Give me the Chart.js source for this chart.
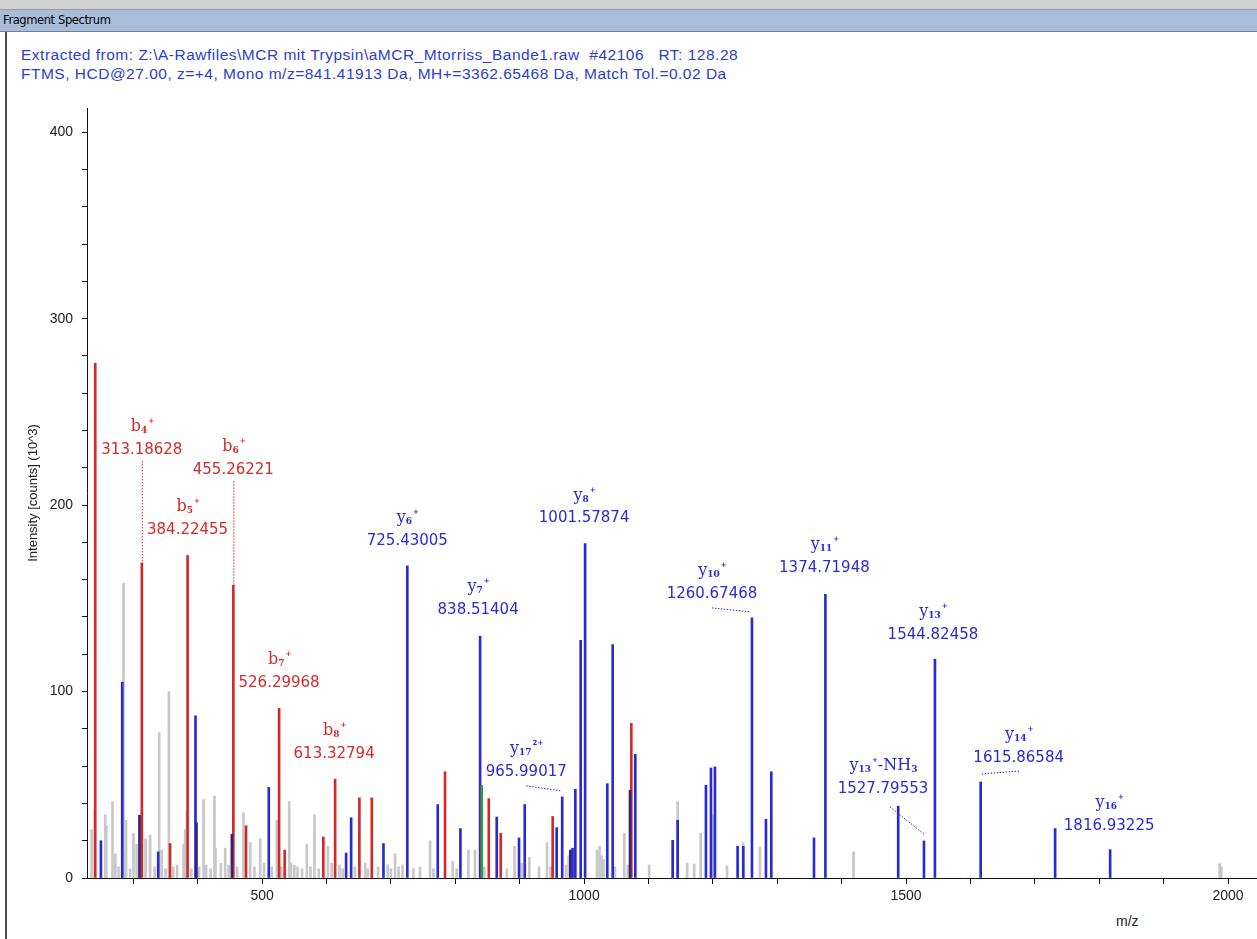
<!DOCTYPE html>
<html>
<head>
<meta charset="utf-8">
<script src="https://cdn.jsdelivr.net/npm/chart.js@4.4.1/dist/chart.umd.min.js"></script>
<style>
  html, body { margin: 0; padding: 0; background: #fff; }
  #wrap { position: relative; width: 1257px; height: 939px; overflow: hidden; font-family: "Liberation Sans", Arial, sans-serif; }
  #topstrip { position: absolute; left: 0; top: 0; width: 1257px; height: 9px; background: #d2d2d2; border-bottom: 1px solid #9a9a9a; }
  #titlebar { position: absolute; left: 0; top: 10px; width: 1257px; height: 21px; background: #a9bdda; border-bottom: 1px solid #6f7f96; font: 11.5px "DejaVu Sans", sans-serif; letter-spacing: -0.4px; line-height: 21px; color: #000; text-indent: 3px; }
  #frame { position: absolute; left: 5px; top: 32px; width: 2px; height: 907px; background: #4d4d4d; }
  #info { position: absolute; left: 21px; top: 45px; color: #2a3fcc; font-size: 15.5px; letter-spacing: 0.5px; line-height: 19px; white-space: pre; }
  #xlab { position: absolute; left: 1116px; top: 913px; font-size: 14px; color: #222; }
  #chart { position: absolute; left: 0; top: 0; }
</style>
</head>
<body>
<div id="wrap">
  <div id="topstrip"></div>
  <div id="titlebar">Fragment Spectrum</div>
  <div id="frame"></div>
  <div id="info">Extracted from: Z:\A-Rawfiles\MCR mit Trypsin\aMCR_Mtorriss_Bande1.raw  #42106   RT: 128.28
FTMS, HCD@27.00, z=+4, Mono m/z=841.41913 Da, MH+=3362.65468 Da, Match Tol.=0.02 Da</div>
  <div id="xlab">m/z</div>
  <canvas id="chart" width="1257" height="939"></canvas>
</div>
<script>
// unassigned peaks (grey)
var greyMz = [235, 239.9, 256.3, 258, 267.6, 272, 277, 284.7, 287, 288.7, 295, 300.2, 305, 318.9, 326, 333,
  340.1, 344, 350, 355.2, 362, 368, 378, 380.5, 383, 390, 402, 409, 413, 420, 426, 427.5, 436, 442.6, 448,
  461, 471, 481.5, 488, 497, 503, 515, 522.8, 530, 542, 545, 550, 555, 562, 569.4, 575, 581.2, 588, 602,
  608, 620, 625, 644, 660, 664, 680, 695, 700, 706.5, 712, 718, 735, 745, 760.8, 766, 796, 802, 820.3,
  830.6, 845, 880, 892, 903, 915, 930, 942.4, 948, 972, 976, 1020, 1024, 1027, 1030, 1048, 1062.4, 1068,
  1101, 1145.3, 1160, 1171, 1181, 1200, 1222, 1247, 1273, 1418.5, 1987, 1989.5];
var greyInt = [26, 37, 34, 28, 41, 13, 6, 158, 14, 31, 5, 24, 18, 21, 23, 6,
  78, 15, 5, 100, 6, 7, 18, 26, 36, 5, 6, 42, 7, 5, 44, 16, 8, 16, 7,
  6, 35, 19, 6, 21, 8, 6, 31, 6, 41, 8, 7, 6, 5, 18, 6, 34, 5, 17,
  8, 7, 5, 6, 8, 5, 6, 7, 5, 13, 6, 7, 5, 6, 20, 5, 9, 5, 15,
  15, 6, 5, 17, 8, 11, 6, 19, 6, 7, 12, 15, 17, 12, 10, 6, 24, 7,
  7, 41, 8, 7.5, 24, 34, 6.5, 19, 16.5, 14, 7.7, 6];

// b ions and other red matches
var redMz = [240.8, 313.18628, 357, 384.22455, 455.26221, 475, 526.29968, 535, 595, 613.32794, 651, 670.3,
  784, 852, 870.5, 951.2, 1073.3];
var redInt = [276, 169, 18.5, 173, 157, 28, 91, 15, 22, 53, 43, 43, 57, 42.6, 24, 33, 83];

// y ions and other blue matches
var blueMz = [249.6, 282.7, 338.6, 396.5, 510.3, 630.4, 638.2, 688.4, 725.43005, 772.7, 807.9, 838.51404,
  864.3, 898.9, 907.8, 957.4, 965.99017, 982, 986.4, 994.7, 1001.57874, 1036, 1044.4, 1079.5, 1137.5,
  1145.3, 1189.2, 1197, 1203.2, 1238.4, 1247.2, 1260.67468, 1282.4, 1290.7, 1357, 1374.71948, 1487.8,
  1527.79553, 1544.82458, 1615.86584, 1731.5, 1816.93225];
var blueInt = [20, 105, 14, 87, 48.6, 13.4, 32.3, 18.5, 167.5, 39.4, 26.5, 129.7,
  32.7, 21.5, 39.4, 27, 43.5, 16, 47.6, 127.5, 179.4, 50.6, 125.2, 66.4, 20.2,
  31, 49.7, 59, 59.6, 17, 17, 139.5, 31.5, 57, 21.5, 152.2, 38.5,
  19.9, 117.4, 51.5, 26.5, 15.2];

// overlapping (dark) and other-ion (green) peaks
var navyMz = [309.5, 398, 453, 978.6, 1071.3];
var navyInt = [33.7, 29.7, 23.5, 15, 47];
var greenMz = [841];
var greenInt = [49.7];

// axis ticks
var xTickValues = [300, 400, 500, 600, 700, 800, 900, 1000, 1100, 1200, 1300, 1400, 1500, 1600, 1700, 1800, 1900, 2000];
var xTickLabels = [500, 1000, 1500, 2000];
var yTickValues = [0, 20, 40, 60, 80, 100, 120, 140, 160, 180, 200, 220, 240, 260, 280, 300, 320, 340, 360, 380, 400];
var yTickLabels = [0, 100, 200, 300, 400];

// annotated ions
var labels = [
  { parts: [['b', 'n'], ['4', 'sub'], ['+', 'sup']], text: '313.18628', mz: 313.18628, intensity: 169, ion: 'b' },
  { parts: [['b', 'n'], ['5', 'sub'], ['+', 'sup']], text: '384.22455', mz: 384.22455, intensity: 173, ion: 'b' },
  { parts: [['b', 'n'], ['6', 'sub'], ['+', 'sup']], text: '455.26221', mz: 455.26221, intensity: 157, ion: 'b' },
  { parts: [['b', 'n'], ['7', 'sub'], ['+', 'sup']], text: '526.29968', mz: 526.29968, intensity: 91, ion: 'b' },
  { parts: [['b', 'n'], ['8', 'sub'], ['+', 'sup']], text: '613.32794', mz: 613.32794, intensity: 53, ion: 'b' },
  { parts: [['y', 'n'], ['6', 'sub'], ['+', 'sup']], text: '725.43005', mz: 725.43005, intensity: 167.5, ion: 'y' },
  { parts: [['y', 'n'], ['7', 'sub'], ['+', 'sup']], text: '838.51404', mz: 838.51404, intensity: 129.7, ion: 'y' },
  { parts: [['y', 'n'], ['8', 'sub'], ['+', 'sup']], text: '1001.57874', mz: 1001.57874, intensity: 179.4, ion: 'y' },
  { parts: [['y', 'n'], ['17', 'sub'], ['2+', 'sup']], text: '965.99017', mz: 965.99017, intensity: 43.5, ion: 'y' },
  { parts: [['y', 'n'], ['10', 'sub'], ['+', 'sup']], text: '1260.67468', mz: 1260.67468, intensity: 139.5, ion: 'y' },
  { parts: [['y', 'n'], ['11', 'sub'], ['+', 'sup']], text: '1374.71948', mz: 1374.71948, intensity: 152.2, ion: 'y' },
  { parts: [['y', 'n'], ['13', 'sub'], ['+', 'sup']], text: '1544.82458', mz: 1544.82458, intensity: 117.4, ion: 'y' },
  { parts: [['y', 'n'], ['13', 'sub'], ['+', 'sup'], ['-NH', 'n'], ['3', 'sub']], text: '1527.79553', mz: 1527.79553, intensity: 19.9, ion: 'y' },
  { parts: [['y', 'n'], ['14', 'sub'], ['+', 'sup']], text: '1615.86584', mz: 1615.86584, intensity: 51.5, ion: 'y' },
  { parts: [['y', 'n'], ['16', 'sub'], ['+', 'sup']], text: '1816.93225', mz: 1816.93225, intensity: 15.2, ion: 'y' }
];

// label placement in pixels relative to the peak top (number line centre)
var placement = [
  { dx: 0, dy: -113, lead: 'v' },
  { dx: 0, dy: -25 },
  { dx: 0, dy: -115, lead: 'v' },
  { dx: 0, dy: -25 },
  { dx: -1, dy: -25 },
  { dx: 0, dy: -25 },
  { dx: -2, dy: -26 },
  { dx: -1, dy: -25 },
  { dx: -36, dy: -25, lead: 'l' },
  { dx: -40, dy: -24, lead: 'l' },
  { dx: -1, dy: -26 },
  { dx: -2, dy: -24 },
  { dx: -41, dy: -52, lead: 'd' },
  { dx: 38, dy: -24, lead: 'r' },
  { dx: -1, dy: -24 }
];

var ionColors = { b: '#d42a2a', y: '#2b2bd4' };

function pts(xs, ys) {
  return xs.map(function (x, i) { return { x: x, y: ys[i] }; });
}

function peakSet(name, xs, ys, color, order, width) {
  return {
    label: name, data: pts(xs, ys), backgroundColor: color, borderWidth: 0,
    barThickness: width || 2, grouped: false, order: order
  };
}

var labelPlugin = {
  id: 'ionLabels',
  afterDatasetsDraw: function (chart) {
    var ctx = chart.ctx, xs = chart.scales.x, ys = chart.scales.y;
    ctx.save();
    labels.forEach(function (l, i) {
      var p = placement[i];
      var px = xs.getPixelForValue(l.mz), py = ys.getPixelForValue(l.intensity);
      var lx = px + p.dx, ny = py + p.dy;
      var col = ionColors[l.ion];
      ctx.fillStyle = col;
      ctx.strokeStyle = col;

      // leader line
      if (p.lead) {
        ctx.lineWidth = 1;
        ctx.setLineDash([1.5, 1.5]);
        ctx.beginPath();
        if (p.lead === 'v') { ctx.moveTo(px + 0.5, ny + 11); ctx.lineTo(px + 0.5, py); }
        if (p.lead === 'l') { ctx.moveTo(lx, ny + 14); ctx.lineTo(px - 1, py - 6); }
        if (p.lead === 'd') { ctx.moveTo(lx + 7, ny + 18); ctx.lineTo(px + 1, py - 6); }
        if (p.lead === 'r') { ctx.moveTo(px + 1, py - 8); ctx.lineTo(lx + 1, ny + 13); }
        ctx.stroke();
        ctx.setLineDash([]);
      }

      // m/z value
      ctx.font = '15px "DejaVu Sans"';
      ctx.textAlign = 'center';
      ctx.textBaseline = 'middle';
      ctx.fillText(l.text, lx, ny);

      // ion name with sub/superscripts
      var fonts = { n: '16px "DejaVu Serif"', sub: 'bold 9px "DejaVu Serif"', sup: 'bold 7px "DejaVu Sans"' };
      var shift = { n: 0, sub: 2, sup: -8 };
      var total = 0;
      var widths = l.parts.map(function (s) {
        ctx.font = fonts[s[1]];
        var w = ctx.measureText(s[0]).width;
        total += w;
        return w;
      });
      var x = lx - total / 2;
      ctx.textAlign = 'left';
      ctx.textBaseline = 'alphabetic';
      l.parts.forEach(function (s, k) {
        ctx.font = fonts[s[1]];
        ctx.fillText(s[0], x, ny - 19 + shift[s[1]]);
        x += widths[k] + (s[1] === 'sub' ? 1 : 0);
      });
    });
    ctx.restore();
  }
};

new Chart(document.getElementById('chart'), {
  type: 'bar',
  data: {
    datasets: [
      peakSet('unassigned', greyMz, greyInt, '#c8c8c8', 5, 2),
      peakSet('b', redMz, redInt, '#d02a2a', 2),
      peakSet('y', blueMz, blueInt, '#2a2ad2', 1),
      peakSet('overlap', navyMz, navyInt, '#30247e', 0),
      peakSet('other', greenMz, greenInt, '#3c963c', 0)
    ]
  },
  options: {
    responsive: false,
    animation: false,
    devicePixelRatio: 1,
    layout: { padding: { top: 108, left: 0, right: 0, bottom: 0 } },
    plugins: { legend: { display: false }, tooltip: { enabled: false } },
    scales: {
      x: {
        type: 'linear', min: 228, max: 2045, offset: false,
        afterBuildTicks: function (s) { s.ticks = xTickValues.map(function (v) { return { value: v }; }); },
        afterFit: function (s) { s.height = 61; },
        ticks: {
          autoSkip: false, maxRotation: 0, padding: 4, color: '#222',
          font: { family: '"Liberation Sans", Arial', size: 14 },
          callback: function (v) { return xTickLabels.indexOf(v) >= 0 ? String(v) : ''; }
        },
        grid: { drawOnChartArea: false, offset: false, tickLength: 6, tickColor: '#111' },
        border: { color: '#111', width: 1 }
      },
      y: {
        min: 0, max: 413,
        afterBuildTicks: function (s) { s.ticks = yTickValues.map(function (v) { return { value: v }; }); },
        afterFit: function (s) { s.width = 87; },
        ticks: {
          autoSkip: false, padding: 9, color: '#222',
          font: { family: '"Liberation Sans", Arial', size: 14 },
          callback: function (v) { return yTickLabels.indexOf(v) >= 0 ? String(v) : ''; }
        },
        grid: { drawOnChartArea: false, tickLength: 5, tickColor: '#111' },
        border: { color: '#111', width: 1 },
        title: {
          display: true, text: 'Intensity [counts] (10^3)', color: '#222',
          font: { family: '"Liberation Sans", Arial', size: 13 },
          padding: { top: 26, bottom: 0 }
        }
      }
    }
  },
  plugins: [labelPlugin]
});
</script>
</body>
</html>
